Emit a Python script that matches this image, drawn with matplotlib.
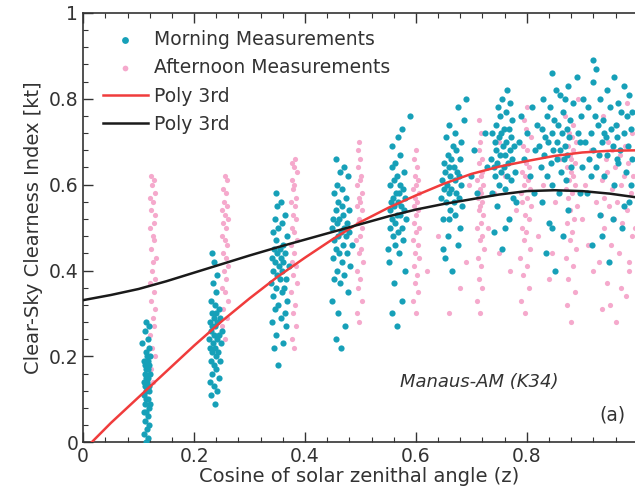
import matplotlib
matplotlib.use("Agg")
import matplotlib.pyplot as plt
from matplotlib.ticker import MultipleLocator

# cluster data (x = cos z, y = kt)
am_x1 = [0.113, 0.117, 0.110, 0.115, 0.119, 0.112, 0.116, 0.109, 0.114, 0.118, 0.111, 0.120, 0.113, 0.116,
         0.110, 0.118, 0.114, 0.112, 0.119, 0.115, 0.109, 0.117, 0.113, 0.121, 0.111, 0.116, 0.114, 0.119,
         0.112, 0.117, 0.110, 0.115, 0.120, 0.113, 0.118, 0.106, 0.116, 0.111, 0.119, 0.114]
am_y1 = [0.00, 0.01, 0.02, 0.03, 0.04, 0.05, 0.06, 0.07, 0.07, 0.08, 0.09, 0.09, 0.10, 0.10,
         0.11, 0.12, 0.12, 0.13, 0.13, 0.14, 0.14, 0.15, 0.15, 0.16, 0.16, 0.17, 0.17, 0.18,
         0.18, 0.19, 0.19, 0.20, 0.20, 0.21, 0.22, 0.23, 0.24, 0.26, 0.27, 0.28]
pm_x1 = [0.126, 0.122, 0.129, 0.124, 0.121, 0.128, 0.125, 0.130, 0.123, 0.127, 0.121, 0.129, 0.124, 0.126,
         0.131, 0.122, 0.128, 0.125, 0.120, 0.127, 0.130, 0.123, 0.126, 0.121, 0.129, 0.124, 0.127, 0.122]
pm_y1 = [0.14, 0.17, 0.20, 0.22, 0.25, 0.27, 0.29, 0.31, 0.33, 0.35, 0.37, 0.38, 0.40, 0.42,
         0.43, 0.45, 0.47, 0.48, 0.50, 0.51, 0.53, 0.54, 0.56, 0.57, 0.58, 0.60, 0.61, 0.62]

am_x2 = [0.238, 0.231, 0.242, 0.235, 0.228, 0.244, 0.233, 0.240, 0.236, 0.230, 0.246, 0.239, 0.232, 0.243,
         0.237, 0.229, 0.248, 0.234, 0.241, 0.227, 0.245, 0.236, 0.231, 0.250, 0.238, 0.233, 0.242, 0.229,
         0.246, 0.235, 0.240, 0.232, 0.244, 0.237, 0.230, 0.239, 0.234, 0.241, 0.236, 0.233]
am_y2 = [0.09, 0.11, 0.12, 0.13, 0.14, 0.15, 0.16, 0.17, 0.18, 0.19, 0.19, 0.20, 0.21, 0.21,
         0.22, 0.22, 0.23, 0.23, 0.24, 0.24, 0.25, 0.25, 0.26, 0.26, 0.27, 0.27, 0.28, 0.28,
         0.29, 0.29, 0.30, 0.30, 0.31, 0.32, 0.33, 0.35, 0.37, 0.39, 0.42, 0.44]
pm_x2 = [0.256, 0.251, 0.259, 0.253, 0.261, 0.255, 0.250, 0.258, 0.254, 0.262, 0.257, 0.252, 0.260,
         0.255, 0.251, 0.258, 0.253, 0.261, 0.256, 0.250, 0.259, 0.254, 0.257, 0.252, 0.260, 0.256]
pm_y2 = [0.24, 0.27, 0.29, 0.31, 0.33, 0.35, 0.36, 0.38, 0.40, 0.41, 0.43, 0.44, 0.46,
         0.47, 0.48, 0.50, 0.51, 0.52, 0.53, 0.54, 0.55, 0.56, 0.58, 0.59, 0.61, 0.62]

am_x3 = [0.352, 0.344, 0.360, 0.348, 0.366, 0.340, 0.356, 0.363, 0.345, 0.351, 0.368, 0.342, 0.358, 0.347,
         0.362, 0.338, 0.354, 0.365, 0.349, 0.359, 0.343, 0.371, 0.353, 0.346, 0.361, 0.341, 0.357, 0.350,
         0.364, 0.344, 0.355, 0.360, 0.348, 0.367, 0.342, 0.352, 0.358, 0.345, 0.363, 0.350, 0.356, 0.347]
am_y3 = [0.18, 0.22, 0.23, 0.25, 0.27, 0.28, 0.29, 0.30, 0.31, 0.32, 0.33, 0.34, 0.35, 0.36,
         0.36, 0.37, 0.38, 0.38, 0.39, 0.40, 0.40, 0.41, 0.41, 0.42, 0.42, 0.43, 0.43, 0.44,
         0.44, 0.45, 0.45, 0.46, 0.47, 0.48, 0.49, 0.50, 0.51, 0.52, 0.53, 0.55, 0.56, 0.58]
pm_x3 = [0.380, 0.376, 0.384, 0.378, 0.382, 0.375, 0.386, 0.379, 0.383, 0.377, 0.381, 0.374, 0.385, 0.380,
         0.376, 0.383, 0.378, 0.382, 0.375, 0.384, 0.379, 0.381, 0.377, 0.385, 0.380, 0.376, 0.382]
pm_y3 = [0.22, 0.24, 0.27, 0.30, 0.32, 0.35, 0.37, 0.39, 0.41, 0.42, 0.44, 0.46, 0.47, 0.49,
         0.50, 0.52, 0.53, 0.55, 0.56, 0.57, 0.59, 0.60, 0.61, 0.63, 0.64, 0.65, 0.66]

am_x4 = [0.465, 0.455, 0.472, 0.460, 0.448, 0.478, 0.463, 0.452, 0.470, 0.458, 0.481, 0.466, 0.450, 0.475,
         0.461, 0.456, 0.484, 0.468, 0.453, 0.473, 0.459, 0.479, 0.464, 0.449, 0.471, 0.457, 0.476, 0.462,
         0.451, 0.469, 0.480, 0.455, 0.467, 0.460, 0.474, 0.452, 0.466, 0.458, 0.477, 0.463, 0.470, 0.456]
am_y4 = [0.22, 0.24, 0.27, 0.30, 0.33, 0.35, 0.37, 0.38, 0.39, 0.40, 0.41, 0.42, 0.43, 0.44,
         0.44, 0.45, 0.46, 0.46, 0.47, 0.48, 0.48, 0.49, 0.49, 0.50, 0.50, 0.51, 0.51, 0.52,
         0.52, 0.53, 0.54, 0.54, 0.55, 0.56, 0.57, 0.58, 0.59, 0.60, 0.62, 0.63, 0.64, 0.66]
pm_x4 = [0.498, 0.493, 0.502, 0.496, 0.500, 0.494, 0.504, 0.497, 0.501, 0.492, 0.499, 0.503, 0.495,
         0.498, 0.502, 0.494, 0.500, 0.497, 0.503, 0.493, 0.499, 0.501, 0.496, 0.500, 0.495, 0.498]
pm_y4 = [0.28, 0.30, 0.33, 0.36, 0.38, 0.40, 0.42, 0.44, 0.45, 0.47, 0.48, 0.50, 0.51,
         0.52, 0.54, 0.55, 0.56, 0.57, 0.58, 0.60, 0.61, 0.62, 0.64, 0.66, 0.68, 0.70]

am_x5 = [0.566, 0.556, 0.574, 0.560, 0.580, 0.552, 0.570, 0.563, 0.577, 0.558, 0.568, 0.554, 0.575, 0.562,
         0.582, 0.557, 0.571, 0.565, 0.553, 0.579, 0.561, 0.573, 0.555, 0.567, 0.581, 0.559, 0.569, 0.564,
         0.576, 0.554, 0.572, 0.560, 0.566, 0.578, 0.557, 0.563, 0.571, 0.556, 0.568, 0.575, 0.550, 0.590]
am_y5 = [0.27, 0.30, 0.33, 0.37, 0.40, 0.42, 0.44, 0.46, 0.47, 0.48, 0.49, 0.50, 0.50, 0.51,
         0.52, 0.52, 0.53, 0.53, 0.54, 0.54, 0.55, 0.55, 0.56, 0.56, 0.57, 0.57, 0.58, 0.58,
         0.59, 0.60, 0.60, 0.61, 0.62, 0.63, 0.64, 0.65, 0.67, 0.69, 0.71, 0.73, 0.45, 0.76]
pm_x5 = [0.600, 0.595, 0.604, 0.598, 0.602, 0.596, 0.606, 0.599, 0.603, 0.594, 0.601, 0.605, 0.597,
         0.600, 0.604, 0.596, 0.602, 0.599, 0.605, 0.595, 0.601, 0.603, 0.598, 0.602, 0.597, 0.600]
pm_y5 = [0.30, 0.33, 0.35, 0.37, 0.39, 0.41, 0.43, 0.44, 0.46, 0.47, 0.49, 0.50, 0.51,
         0.53, 0.54, 0.55, 0.56, 0.57, 0.58, 0.59, 0.60, 0.61, 0.62, 0.64, 0.66, 0.68]

am_x6 = [0.665, 0.652, 0.675, 0.658, 0.680, 0.648, 0.670, 0.661, 0.683, 0.654, 0.668, 0.645, 0.677, 0.660,
         0.672, 0.650, 0.664, 0.682, 0.656, 0.671, 0.647, 0.678, 0.662, 0.653, 0.674, 0.659, 0.669, 0.651,
         0.679, 0.663, 0.657, 0.673, 0.666, 0.681, 0.655, 0.670, 0.660, 0.686, 0.649, 0.676, 0.660, 0.690]
am_y6 = [0.40, 0.43, 0.46, 0.48, 0.50, 0.52, 0.53, 0.54, 0.55, 0.56, 0.56, 0.57, 0.57, 0.58,
         0.58, 0.59, 0.59, 0.60, 0.60, 0.61, 0.61, 0.62, 0.62, 0.63, 0.63, 0.64, 0.64, 0.65,
         0.66, 0.66, 0.67, 0.68, 0.69, 0.70, 0.71, 0.72, 0.74, 0.75, 0.45, 0.78, 0.52, 0.80]
pm_x6 = [0.716, 0.711, 0.720, 0.714, 0.718, 0.712, 0.722, 0.715, 0.719, 0.710, 0.717, 0.721, 0.713, 0.716,
         0.720, 0.712, 0.718, 0.715, 0.721, 0.711, 0.717, 0.719, 0.714, 0.720, 0.713, 0.716, 0.718, 0.714]
pm_y6 = [0.30, 0.33, 0.36, 0.38, 0.41, 0.43, 0.45, 0.47, 0.48, 0.50, 0.51, 0.53, 0.54, 0.55,
         0.56, 0.57, 0.58, 0.59, 0.60, 0.61, 0.62, 0.63, 0.65, 0.66, 0.68, 0.70, 0.72, 0.75]

am_x7 = [0.755, 0.740, 0.768, 0.746, 0.775, 0.737, 0.760, 0.750, 0.771, 0.743, 0.764, 0.753, 0.778, 0.741,
         0.758, 0.766, 0.747, 0.773, 0.736, 0.761, 0.751, 0.769, 0.744, 0.757, 0.776, 0.742, 0.763, 0.749,
         0.772, 0.754, 0.738, 0.767, 0.759, 0.745, 0.774, 0.752, 0.762, 0.748, 0.770, 0.756, 0.780, 0.765]
am_y7 = [0.45, 0.49, 0.52, 0.55, 0.57, 0.58, 0.59, 0.60, 0.61, 0.62, 0.62, 0.63, 0.63, 0.64,
         0.64, 0.65, 0.65, 0.66, 0.66, 0.67, 0.67, 0.68, 0.68, 0.69, 0.69, 0.70, 0.70, 0.71,
         0.71, 0.72, 0.72, 0.73, 0.73, 0.74, 0.75, 0.76, 0.77, 0.78, 0.79, 0.80, 0.56, 0.82]
pm_x7 = [0.797, 0.790, 0.804, 0.793, 0.801, 0.788, 0.806, 0.795, 0.799, 0.791, 0.803, 0.796, 0.808, 0.792,
         0.800, 0.789, 0.805, 0.794, 0.802, 0.797, 0.791, 0.804, 0.798, 0.795, 0.801, 0.793, 0.807, 0.799,
         0.794, 0.800]
pm_y7 = [0.30, 0.33, 0.36, 0.39, 0.41, 0.43, 0.45, 0.47, 0.49, 0.50, 0.52, 0.53, 0.55, 0.56,
         0.57, 0.58, 0.59, 0.60, 0.61, 0.62, 0.63, 0.64, 0.65, 0.66, 0.68, 0.69, 0.71, 0.73,
         0.75, 0.78]

am_x8 = [0.851, 0.834, 0.866, 0.840, 0.875, 0.828, 0.858, 0.846, 0.870, 0.837, 0.861, 0.825, 0.879, 0.843,
         0.855, 0.867, 0.831, 0.873, 0.848, 0.860, 0.822, 0.869, 0.839, 0.854, 0.876, 0.833, 0.863, 0.845,
         0.872, 0.827, 0.857, 0.849, 0.878, 0.836, 0.866, 0.842, 0.884, 0.830, 0.860, 0.852, 0.874, 0.890,
         0.845, 0.868]
am_y8 = [0.40, 0.44, 0.48, 0.51, 0.54, 0.56, 0.58, 0.60, 0.61, 0.62, 0.63, 0.64, 0.64, 0.65,
         0.66, 0.66, 0.67, 0.67, 0.68, 0.68, 0.69, 0.69, 0.70, 0.70, 0.71, 0.71, 0.72, 0.72,
         0.73, 0.73, 0.74, 0.75, 0.75, 0.76, 0.77, 0.78, 0.79, 0.80, 0.81, 0.82, 0.83, 0.85,
         0.86, 0.80]
pm_x8 = [0.880, 0.872, 0.886, 0.875, 0.883, 0.870, 0.888, 0.877, 0.881, 0.873, 0.885, 0.878, 0.890, 0.874,
         0.882, 0.871, 0.887, 0.876, 0.884, 0.879, 0.873, 0.886, 0.880, 0.877, 0.883, 0.875, 0.889, 0.881,
         0.876, 0.884, 0.868, 0.892]
pm_y8 = [0.28, 0.32, 0.35, 0.38, 0.41, 0.43, 0.45, 0.47, 0.49, 0.51, 0.52, 0.54, 0.55, 0.57,
         0.58, 0.59, 0.60, 0.61, 0.62, 0.63, 0.64, 0.65, 0.66, 0.67, 0.68, 0.69, 0.70, 0.71,
         0.72, 0.74, 0.76, 0.80]

am_x9 = [0.948, 0.918, 0.972, 0.932, 0.985, 0.908, 0.958, 0.940, 0.978, 0.925, 0.965, 0.912, 0.990, 0.945,
         0.930, 0.968, 0.920, 0.955, 0.982, 0.935, 0.905, 0.962, 0.942, 0.975, 0.915, 0.952, 0.988, 0.928,
         0.960, 0.938, 0.980, 0.922, 0.970, 0.950, 0.910, 0.965, 0.932, 0.985, 0.945, 0.975, 0.920, 0.958,
         0.925, 0.920]
am_y9 = [0.42, 0.46, 0.50, 0.53, 0.56, 0.58, 0.60, 0.62, 0.63, 0.64, 0.65, 0.66, 0.66, 0.67,
         0.67, 0.68, 0.68, 0.69, 0.69, 0.70, 0.70, 0.71, 0.71, 0.72, 0.72, 0.73, 0.73, 0.74,
         0.74, 0.75, 0.76, 0.76, 0.77, 0.78, 0.78, 0.79, 0.80, 0.81, 0.82, 0.83, 0.84, 0.85,
         0.87, 0.89]
pm_x9 = [0.960, 0.936, 0.978, 0.945, 0.984, 0.930, 0.966, 0.951, 0.990, 0.940, 0.972, 0.957, 0.933, 0.981,
         0.948, 0.963, 0.939, 0.987, 0.954, 0.969, 0.935, 0.975, 0.944, 0.959, 0.983, 0.942, 0.968, 0.953,
         0.977, 0.947, 0.989, 0.962, 0.938, 0.980]
pm_y9 = [0.28, 0.31, 0.34, 0.37, 0.40, 0.42, 0.44, 0.46, 0.48, 0.50, 0.51, 0.52, 0.53, 0.54,
         0.55, 0.56, 0.57, 0.58, 0.59, 0.60, 0.61, 0.62, 0.63, 0.64, 0.65, 0.66, 0.67, 0.68,
         0.69, 0.70, 0.72, 0.74, 0.76, 0.79]

# loose points between the high-sun columns
am_x10 = [0.700, 0.705, 0.710, 0.725, 0.728, 0.785, 0.790, 0.795, 0.800, 0.805, 0.810, 0.815, 0.812, 0.818,
          0.895, 0.898, 0.900, 0.902, 0.896, 0.893, 0.935, 0.955, 0.975, 0.988, 0.962, 0.940, 0.990, 0.915,
          0.845, 0.760]
am_y10 = [0.62, 0.68, 0.58, 0.72, 0.64, 0.70, 0.76, 0.66, 0.72, 0.62, 0.78, 0.68, 0.58, 0.74,
          0.70, 0.76, 0.64, 0.80, 0.58, 0.72, 0.48, 0.52, 0.55, 0.60, 0.66, 0.72, 0.77, 0.62,
          0.50, 0.50]
pm_x10 = [0.730, 0.740, 0.750, 0.760, 0.770, 0.780, 0.820, 0.830, 0.840, 0.850, 0.860, 0.845, 0.900, 0.905,
          0.910, 0.915, 0.920, 0.925, 0.995, 0.992, 0.985, 0.970, 0.950, 0.690, 0.695, 0.680, 0.640, 0.620,
          0.660, 0.750]
pm_y10 = [0.50, 0.58, 0.44, 0.62, 0.40, 0.54, 0.48, 0.60, 0.38, 0.56, 0.66, 0.44, 0.52, 0.60,
          0.46, 0.68, 0.40, 0.56, 0.50, 0.62, 0.42, 0.36, 0.32, 0.42, 0.60, 0.36, 0.48, 0.40,
          0.30, 0.70]

# 3rd order fits, read at 0.05 steps
fit_x = [0.0, 0.05, 0.1, 0.15, 0.2, 0.25, 0.3, 0.35, 0.4, 0.45, 0.5,
         0.55, 0.6, 0.65, 0.7, 0.75, 0.8, 0.85, 0.9, 0.95, 1.0]
fit_red = [-0.02, 0.045, 0.105, 0.165, 0.225, 0.282, 0.335, 0.385, 0.43, 0.473, 0.513,
           0.546, 0.575, 0.602, 0.625, 0.642, 0.655, 0.667, 0.675, 0.679, 0.68]
fit_black = [0.331, 0.343, 0.357, 0.375, 0.395, 0.415, 0.435, 0.454, 0.472, 0.490, 0.508,
             0.526, 0.542, 0.555, 0.566, 0.577, 0.585, 0.587, 0.585, 0.579, 0.570]

am_x = am_x1 + am_x2 + am_x3 + am_x4 + am_x5 + am_x6 + am_x7 + am_x8 + am_x9 + am_x10
am_y = am_y1 + am_y2 + am_y3 + am_y4 + am_y5 + am_y6 + am_y7 + am_y8 + am_y9 + am_y10
pm_x = pm_x1 + pm_x2 + pm_x3 + pm_x4 + pm_x5 + pm_x6 + pm_x7 + pm_x8 + pm_x9 + pm_x10
pm_y = pm_y1 + pm_y2 + pm_y3 + pm_y4 + pm_y5 + pm_y6 + pm_y7 + pm_y8 + pm_y9 + pm_y10

TEAL = '#16a0b8'
PINK = '#f5a9cc'
TXT = '#333333'

plt.rcParams['font.family'] = ['DejaVu Sans']

fig = plt.figure(figsize=(6.35, 4.98), dpi=100)
ax = fig.add_axes([0.131, 0.112, 0.869, 0.862])

ax.scatter(pm_x, pm_y, s=14, color=PINK, linewidths=0, zorder=2, label='Afternoon Measurements')
ax.scatter(am_x, am_y, s=20, color=TEAL, linewidths=0, zorder=3, label='Morning Measurements')
ax.plot(fit_x, fit_red, color='#f03c3c', lw=1.8, zorder=4, label='Poly 3rd')
ax.plot(fit_x, fit_black, color='#1a1a1a', lw=1.8, zorder=4, label='Poly 3rd')

ax.set_xlim(0, 0.995)
ax.set_ylim(0, 1)
ax.xaxis.set_minor_locator(MultipleLocator(0.04))
ax.yaxis.set_minor_locator(MultipleLocator(0.04))
ax.set_xticks([0, 0.2, 0.4, 0.6, 0.8])
ax.set_xticklabels(['0', '0.2', '0.4', '0.6', '0.8'])
ax.set_yticks([0, 0.2, 0.4, 0.6, 0.8, 1.0])
ax.set_yticklabels(['0', '0.2', '0.4', '0.6', '0.8', '1'])
ax.tick_params(which='both', direction='in', top=True, right=False, colors=TXT, labelsize=13.5)
ax.tick_params(which='major', length=7, width=1)
ax.tick_params(which='minor', length=3.5, width=0.8)
ax.spines['right'].set_visible(False)
for sp in ['left', 'top', 'bottom']:
    ax.spines[sp].set_color(TXT)
    ax.spines[sp].set_linewidth(1.2)

ax.set_xlabel('Cosine of solar zenithal angle (z)', fontsize=14, color=TXT, labelpad=1)
ax.set_ylabel('Clear-Sky Clearness Index [kt]', fontsize=14, color=TXT, labelpad=4)

ax.text(0.715, 0.14, 'Manaus-AM (K34)', fontsize=13, style='italic', color=TXT, ha='center', va='center')
ax.text(0.955, 0.063, '(a)', fontsize=13.5, color=TXT, ha='center', va='center')

h, l = ax.get_legend_handles_labels()
order = [1, 0, 2, 3]
ax.legend([h[i] for i in order], [l[i] for i in order], loc='upper left',
          bbox_to_anchor=(0.005, 1.0), frameon=False, fontsize=13.5, handlelength=2.4,
          handletextpad=0.35, labelspacing=0.5, markerscale=1.1, labelcolor=TXT)

fig.savefig('out.png', dpi=100)
